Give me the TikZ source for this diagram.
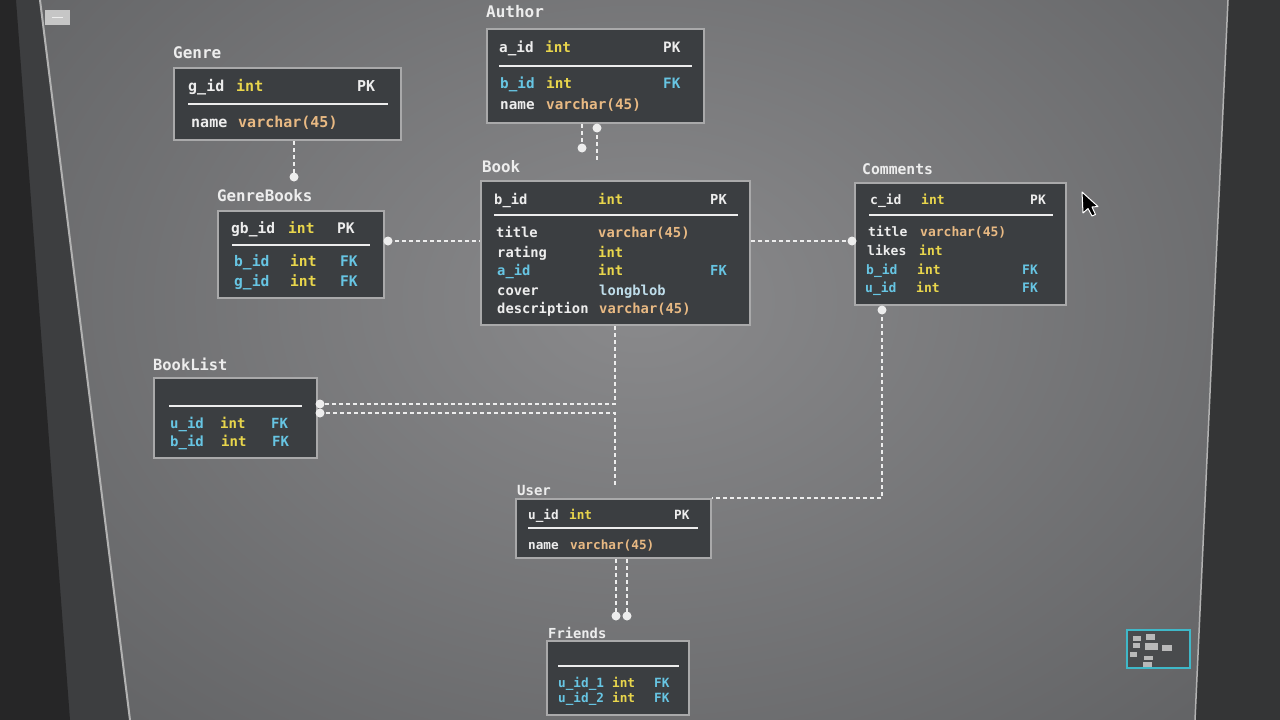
\documentclass[tikz,border=0pt]{standalone}
\usepackage{fontspec}
\setmonofont{DejaVu Sans Mono}
\definecolor{boxfill}{HTML}{3B3E41}
\definecolor{boxline}{HTML}{A9A9AA}
\definecolor{tw}{HTML}{EDEDED}
\definecolor{ty}{HTML}{E9D64C}
\definecolor{to}{HTML}{E8B983}
\definecolor{tc}{HTML}{67C5E3}
\definecolor{tl}{HTML}{BFDDEA}
\definecolor{scrin}{HTML}{8A8A8C}
\definecolor{scrout}{HTML}{5E5F61}
\definecolor{bezel}{HTML}{3D3E40}
\definecolor{bezeldk}{HTML}{262627}
\definecolor{mini}{HTML}{3FB8C8}
\begin{document}
\begin{tikzpicture}[x=1pt,y=-1pt,
  tbl/.style={draw=boxline, fill=boxfill, line width=2pt, inner sep=0pt},
  txt/.style={inner sep=0pt, anchor=base west, font=\ttfamily\bfseries\fontsize{#1}{#1}\selectfont},
  sepl/.style={draw=tw, line width=2pt},
  conn/.style={draw=tw, line width=1.6pt, dash pattern=on 4pt off 3pt},
  dotc/.style={fill=tw},
  minib/.style={fill=gray!55}
]
\useasboundingbox (0,0) rectangle (1280,720);
% screen background
\shade[inner color=scrin, outer color=scrout] (-250,-350) rectangle (1530,950);
% left bezel
\fill[bezel] (0,0) -- (40,0) -- (130,720) -- (0,720) -- cycle;
\draw[gray!60, line width=2pt] (40,0) -- (130,720);
\fill[bezeldk] (0,0) -- (16,0) -- (70,720) -- (0,720) -- cycle;
\fill[gray!45] (45,10) rectangle (70,25);
\draw[tw, line width=1.5pt] (52,17.5) -- (63,17.5);
% right bezel
\fill[bezel!85!black] (1228,0) -- (1280,0) -- (1280,720) -- (1195,720) -- cycle;
\draw[gray!60, line width=1.5pt] (1228,0) -- (1195,720);

% ---------- tables ----------
% Genre
\node[tbl, minimum width=227pt, minimum height=72pt] (genre) at (287.5,104) {};
\node[txt=16, text=tw] (lgenre) at (173,58.5) {Genre};
\draw[sepl] (188,104) -- (388,104);
\node[txt=15, text=tw] (gr1a) at (188,91) {g\_id};
\node[txt=15, text=ty] (gr1b) at (236,91) {int};
\node[txt=15, text=tw] (gr1c) at (357,91) {PK};
\node[txt=15, text=tw] (gr2a) at (191,127) {name};
\node[txt=15, text=to] (gr2b) at (238,127) {varchar(45)};

% Author
\node[tbl, minimum width=217pt, minimum height=94pt] (author) at (595.5,76) {};
\node[txt=16, text=tw] (lauthor) at (486,17.5) {Author};
\draw[sepl] (499,66) -- (692,66);
\node[txt=14.3, text=tw] (au1a) at (499,52) {a\_id};
\node[txt=14.3, text=ty] (au1b) at (545,52) {int};
\node[txt=14.3, text=tw] (au1c) at (663,52) {PK};
\node[txt=14.3, text=tc] (au2a) at (500,88) {b\_id};
\node[txt=14.3, text=ty] (au2b) at (546,88) {int};
\node[txt=14.3, text=tc] (au2c) at (663,88) {FK};
\node[txt=14.3, text=tw] (au3a) at (500,109) {name};
\node[txt=14.3, text=to] (au3b) at (546,109) {varchar(45)};

% GenreBooks
\node[tbl, minimum width=166pt, minimum height=87pt] (gbooks) at (301,254.5) {};
\node[txt=15.8, text=tw] (lgb) at (217,201.5) {GenreBooks};
\draw[sepl] (232,245) -- (370,245);
\node[txt=14.6, text=tw] (gb1a) at (231,233) {gb\_id};
\node[txt=14.6, text=ty] (gb1b) at (288,233) {int};
\node[txt=14.6, text=tw] (gb1c) at (337,233) {PK};
\node[txt=14.6, text=tc] (gb2a) at (234,266) {b\_id};
\node[txt=14.6, text=ty] (gb2b) at (290,266) {int};
\node[txt=14.6, text=tc] (gb2c) at (340,266) {FK};
\node[txt=14.6, text=tc] (gb3a) at (234,286) {g\_id};
\node[txt=14.6, text=ty] (gb3b) at (290,286) {int};
\node[txt=14.6, text=tc] (gb3c) at (340,286) {FK};

% Book
\node[tbl, minimum width=269pt, minimum height=144pt] (book) at (615.5,253) {};
\node[txt=15.8, text=tw] (lbook) at (482,172.5) {Book};
\draw[sepl] (494,215) -- (738,215);
\node[txt=13.8, text=tw] (bk1a) at (494,204) {b\_id};
\node[txt=13.8, text=ty] (bk1b) at (598,204) {int};
\node[txt=13.8, text=tw] (bk1c) at (710,204) {PK};
\node[txt=13.8, text=tw] (bk2a) at (496,237) {title};
\node[txt=13.8, text=to] (bk2b) at (598,237) {varchar(45)};
\node[txt=13.8, text=tw] (bk3a) at (497,257) {rating};
\node[txt=13.8, text=ty] (bk3b) at (598,257) {int};
\node[txt=13.8, text=tc] (bk4a) at (497,275) {a\_id};
\node[txt=13.8, text=ty] (bk4b) at (598,275) {int};
\node[txt=13.8, text=tc] (bk4c) at (710,275) {FK};
\node[txt=13.8, text=tw] (bk5a) at (497,295) {cover};
\node[txt=13.8, text=tl] (bk5b) at (599,295) {longblob};
\node[txt=13.8, text=tw] (bk6a) at (497,313) {description};
\node[txt=13.8, text=to] (bk6b) at (599,313) {varchar(45)};

% Comments
\node[tbl, minimum width=211pt, minimum height=122pt] (comments) at (960.5,244) {};
\node[txt=14.7, text=tw] (lcom) at (862,174.5) {Comments};
\draw[sepl] (869,215) -- (1053,215);
\node[txt=13, text=tw] (cm1a) at (870,204) {c\_id};
\node[txt=13, text=ty] (cm1b) at (921,204) {int};
\node[txt=13, text=tw] (cm1c) at (1030,204) {PK};
\node[txt=13, text=tw] (cm2a) at (868,236) {title};
\node[txt=13, text=to] (cm2b) at (920,236) {varchar(45)};
\node[txt=13, text=tw] (cm3a) at (867,255) {likes};
\node[txt=13, text=ty] (cm3b) at (919,255) {int};
\node[txt=13, text=tc] (cm4a) at (866,274) {b\_id};
\node[txt=13, text=ty] (cm4b) at (917,274) {int};
\node[txt=13, text=tc] (cm4c) at (1022,274) {FK};
\node[txt=13, text=tc] (cm5a) at (865,292) {u\_id};
\node[txt=13, text=ty] (cm5b) at (916,292) {int};
\node[txt=13, text=tc] (cm5c) at (1022,292) {FK};

% BookList
\node[tbl, minimum width=163pt, minimum height=80pt] (booklist) at (235.5,418) {};
\node[txt=15.4, text=tw] (lbl) at (153,370.5) {BookList};
\draw[sepl] (169,406) -- (302,406);
\node[txt=14, text=tc] (bl1a) at (170,428) {u\_id};
\node[txt=14, text=ty] (bl1b) at (220,428) {int};
\node[txt=14, text=tc] (bl1c) at (271,428) {FK};
\node[txt=14, text=tc] (bl2a) at (170,446) {b\_id};
\node[txt=14, text=ty] (bl2b) at (221,446) {int};
\node[txt=14, text=tc] (bl2c) at (272,446) {FK};

% User
\node[tbl, minimum width=195pt, minimum height=59pt] (user) at (613.5,528.5) {};
\node[txt=14, text=tw] (luser) at (517,495) {User};
\draw[sepl] (528,528) -- (698,528);
\node[txt=12.7, text=tw] (us1a) at (528,519) {u\_id};
\node[txt=12.7, text=ty] (us1b) at (569,519) {int};
\node[txt=12.7, text=tw] (us1c) at (674,519) {PK};
\node[txt=12.7, text=tw] (us2a) at (528,549) {name};
\node[txt=12.7, text=to] (us2b) at (570,549) {varchar(45)};

% Friends
\node[tbl, minimum width=142pt, minimum height=74pt] (friends) at (618,678) {};
\node[txt=13.8, text=tw] (lfr) at (548,638) {Friends};
\draw[sepl] (558,666) -- (679,666);
\node[txt=12.7, text=tc] (fr1a) at (558,687) {u\_id\_1};
\node[txt=12.7, text=ty] (fr1b) at (612,687) {int};
\node[txt=12.7, text=tc] (fr1c) at (654,687) {FK};
\node[txt=12.7, text=tc] (fr2a) at (558,702) {u\_id\_2};
\node[txt=12.7, text=ty] (fr2b) at (612,702) {int};
\node[txt=12.7, text=tc] (fr2c) at (654,702) {FK};

% ---------- connectors ----------
\coordinate (gdot) at (294,177);
\draw[conn] (genre.south -| gdot) -- (gdot);
\fill[dotc] (gdot) circle (4.5);

\coordinate (adot1) at (582,148);
\coordinate (adot2) at (597,128);
\draw[conn] (author.south -| adot1) -- (adot1);
\draw[conn] (adot2) -- (lbook.north -| adot2);
\fill[dotc] (adot1) circle (4.5);
\fill[dotc] (adot2) circle (4.5);

\coordinate (gbdot) at (388,241);
\draw[conn] (gbdot) -- (book.west |- gbdot);
\fill[dotc] (gbdot) circle (4.5);

\coordinate (cdot1) at (852,241);
\draw[conn] (book.east |- cdot1) -- (cdot1);
\fill[dotc] (cdot1) circle (4.5);

\coordinate (bldot1) at (320,404);
\coordinate (bldot2) at (320,413);
\coordinate (bkx) at (615,0);
\draw[conn] (book.south -| bkx) |- (bldot1);
\draw[conn] (luser.north -| bkx) |- (bldot2);
\fill[dotc] (bldot1) circle (4.5);
\fill[dotc] (bldot2) circle (4.5);

\coordinate (cdot2) at (882,310);
\draw[conn] (cdot2) |- (user.north east);
\fill[dotc] (cdot2) circle (4.5);

\coordinate (fdot1) at (616,616);
\coordinate (fdot2) at (627,616);
\draw[conn] (user.south -| fdot1) -- (fdot1);
\draw[conn] (user.south -| fdot2) -- (fdot2);
\fill[dotc] (fdot1) circle (4.5);
\fill[dotc] (fdot2) circle (4.5);

% ---------- cursor ----------
\filldraw[fill=black, draw=white, line width=1pt, line join=round]
  (1082,192) -- (1083,213) -- (1088,208.5) -- (1092,216) -- (1095.5,214.5) -- (1092,207) -- (1098,206.5) -- cycle;

% ---------- minimap ----------
\filldraw[fill=boxfill!80!gray, draw=mini, line width=1.5pt] (1127,630) rectangle (1190,668);
\fill[minib] (1133,636) rectangle (1141,641);
\fill[minib] (1146,634) rectangle (1155,640);
\fill[minib] (1133,643) rectangle (1140,648);
\fill[minib] (1145,643) rectangle (1158,650);
\fill[minib] (1162,645) rectangle (1172,651);
\fill[minib] (1130,652) rectangle (1137,657);
\fill[minib] (1144,656) rectangle (1153,660);
\fill[minib] (1143,662) rectangle (1152,667);
\end{tikzpicture}
\end{document}
